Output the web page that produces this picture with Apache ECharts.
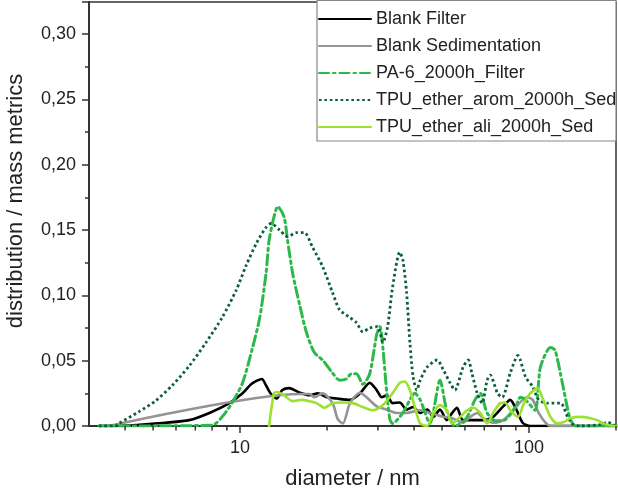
<!DOCTYPE html>
<html>
<head>
<meta charset="utf-8">
<script src="https://cdn.jsdelivr.net/npm/echarts@6/dist/echarts.min.js"></script>
<style>
  html, body { margin: 0; padding: 0; background: #fff; }
  #main { width: 618px; height: 489px; }
</style>
</head>
<body>
<div id="main"></div>
<script>
// [diameter nm, distribution]
const blankFilter = [[3.25,0],[4.13,0.0003],[4.47,0.001],[5.5,0.0025],[6.67,0.0045],[7.83,0.010],[9.18,0.0175],[10.2,0.025],[11.0,0.0325],[11.9,0.036],[12.3,0.031],[12.8,0.0245],[13.4,0.021],[14.0,0.0275],[14.8,0.029],[16.1,0.0255],[17.4,0.0235],[18.6,0.025],[20.0,0.022],[21.6,0.021],[24.0,0.020],[26.0,0.025],[28.1,0.033],[29.7,0.0275],[30.9,0.022],[32.2,0.0235],[33.7,0.0175],[35.7,0.018],[37.7,0.0125],[39.7,0.0145],[42.0,0.010],[44.4,0.0125],[46.6,0.007],[49.2,0.0125],[51.9,0.0045],[54.2,0.010],[56.3,0.014],[59.1,0.0045],[64.3,0.0045],[69.5,0.0045],[75.1,0.007],[81.4,0.015],[86.1,0.020],[89.6,0.0145],[95,0.0025],[101,0],[201,0]];
const blankSed = [[3.52,0],[16.1,0.0245],[17.4,0.0245],[18.1,0.022],[19.3,0.025],[20.9,0.0175],[21.8,0.005],[22.7,0.002],[24.0,0.0175],[26.0,0.0255],[27.4,0.022],[29.7,0.015],[32.2,0.0125],[34.8,0.010],[37.7,0.010],[42.0,0.012],[45.4,0.010],[50.5,0.007],[54.2,0.006],[59.1,0.0025],[62.6,0.007],[66.2,0.010],[69.5,0.006],[75.1,0.0025],[81.4,0.0045],[88.5,0.0125],[95,0.020],[98.7,0.022],[103,0.020],[108,0.010],[114,0.0025],[118.6,0],[201,0]];
const pa6Filter = [[3.25,0],[7.99,0.0005],[8.67,0.007],[9.4,0.018],[10.2,0.033],[11.0,0.0585],[11.7,0.083],[12.3,0.117],[12.6,0.142],[13.1,0.160],[13.5,0.168],[14.2,0.160],[14.6,0.142],[15.2,0.117],[16.1,0.092],[17.0,0.071],[18.1,0.056],[19.3,0.0505],[20.9,0.0405],[22.1,0.035],[23.3,0.036],[24.3,0.040],[25.3,0.040],[26.6,0.032],[28.1,0.040],[29.7,0.070],[30.5,0.076],[31.2,0.060],[32.2,0.025],[33.0,0.005],[33.7,0.002],[36.6,0.010],[40.3,0.025],[42.0,0.020],[45.4,0.002],[49.2,0.035],[51.9,0.012],[55.4,0],[60.3,0.005],[65,0.02],[67.8,0.025],[71.6,0.01],[76.5,0.004],[83,0.005],[90,0.015],[93.3,0.022],[97.3,0.02],[105,0.012],[109.5,0.045],[118.6,0.06],[123,0.058],[128.5,0.04],[134,0.02],[139,0.005],[145,0],[201,0]];
const tpuArom = [[3.25,0],[3.7,0],[3.81,0.002],[4.47,0.011],[5.08,0.019],[5.82,0.031],[6.67,0.046],[7.6,0.0635],[8.67,0.083],[9.7,0.104],[10.5,0.123],[11.4,0.140],[12.3,0.152],[12.8,0.155],[13.7,0.150],[14.6,0.145],[15.7,0.148],[16.7,0.148],[17.8,0.137],[19.3,0.122],[20.9,0.102],[22.1,0.089],[24.0,0.083],[25.3,0.079],[26.6,0.072],[28.1,0.075],[29.9,0.076],[31.2,0.064],[32.4,0.076],[33.7,0.106],[35.7,0.133],[36.6,0.127],[37.7,0.102],[38.7,0.064],[39.7,0.0375],[40.9,0.0275],[42.0,0.035],[44.4,0.045],[48.1,0.0505],[50.5,0.043],[53.3,0.033],[55.4,0.0275],[59.1,0.045],[61.6,0.0505],[63.4,0.0405],[66.2,0.025],[68.8,0.0175],[71.6,0.035],[73.4,0.039],[77.8,0.025],[80.8,0.022],[86.1,0.0405],[91.6,0.054],[93.3,0.0505],[97.3,0.0375],[103,0.030],[108,0.020],[116,0.0175],[128.5,0.0175],[136,0.007],[141.5,0.0015],[150.7,0],[177,0.001],[187,0.003],[195,0.001],[201,0]];
const tpuAli = [[12.6,0],[13.1,0.025],[13.4,0.026],[14.2,0.0235],[15.2,0.019],[16.3,0.020],[17.4,0.019],[18.4,0.0175],[19.6,0.014],[20.9,0.0175],[22.7,0.018],[24.5,0.0175],[26.6,0.0145],[28.8,0.012],[31.2,0.016],[33.7,0.025],[35.7,0.033],[37.1,0.034],[38.7,0.0275],[40.3,0.014],[42.0,0.002],[44.4,0],[46.6,0.010],[49.2,0.016],[51.9,0.012],[54.2,0.002],[57.8,0.007],[61.0,0.012],[64.3,0.014],[67.8,0.010],[71.6,0.002],[75.1,0.010],[79.5,0.0175],[82.6,0.018],[86.1,0.012],[91.6,0.007],[96.1,0.0175],[101,0.025],[107,0.029],[112,0.020],[118.6,0.007],[125,0.002],[132,0.003],[139,0.006],[151,0.007],[163,0.006],[172,0.0045],[181,0.002],[196,0],[201,0]];

const seriesNames = ['Blank Filter', 'Blank Sedimentation', 'PA-6_2000h_Filter', 'TPU_ether_arom_2000h_Sed', 'TPU_ether_ali_2000h_Sed'];
const xMinorTicks = [4, 5, 6, 7, 8, 9, 20, 30, 40, 50, 60, 70, 80, 90, 200];

const font = '"Liberation Sans", Arial, sans-serif';
const axisColor = '#333';

function lineSeries(name, data, color, width, dash, cap) {
  return {
    name: name,
    type: 'line',
    data: data,
    symbol: 'none',
    smooth: 0.25,
    lineStyle: {color: color, width: width, type: dash || 'solid', cap: cap || 'round'},
    itemStyle: {color: color},
    z: 3
  };
}

const chart = echarts.init(document.getElementById('main'));
chart.setOption({
  animation: false,
  textStyle: {fontFamily: font},
  grid: {
    left: 89, right: 2, top: 2, bottom: 63,
    outerBoundsMode: 'none', containLabel: false,
    show: true, borderColor: axisColor, borderWidth: 1.5
  },
  legend: {
    data: seriesNames,
    orient: 'vertical',
    left: 318,
    top: 10,
    padding: 0,
    itemWidth: 52,
    itemHeight: 14,
    itemGap: 9,
    itemStyle: {opacity: 0},
    textStyle: {fontSize: 18, color: '#222', fontFamily: font}
  },
  graphic: [{
    type: 'rect',
    shape: {x: 317, y: 0.5, width: 299, height: 140.5},
    style: {fill: '#fff', stroke: '#888', lineWidth: 1.2},
    z: 1
  }],
  xAxis: {
    type: 'log',
    logBase: 10,
    min: 3,
    max: 200,
    name: 'diameter / nm',
    nameLocation: 'middle',
    nameGap: 42,
    nameTextStyle: {fontSize: 22, color: '#222'},
    axisLine: {lineStyle: {color: axisColor, width: 2}},
    axisTick: {length: 7, lineStyle: {color: axisColor, width: 1.5}},
    axisLabel: {fontSize: 18, color: '#222', margin: 13, showMinLabel: false, showMaxLabel: false},
    splitLine: {show: false}
  },
  yAxis: {
    type: 'value',
    min: 0,
    max: 0.3245,
    interval: 0.05,
    name: 'distribution / mass metrics',
    nameLocation: 'middle',
    nameGap: 62,
    nameTextStyle: {fontSize: 22, color: '#222', padding: [0, 0, 0, 26]},
    axisLine: {show: true, lineStyle: {color: axisColor, width: 2}},
    axisTick: {show: true, length: 7, lineStyle: {color: axisColor, width: 1.5}},
    minorTick: {show: true, splitNumber: 2, length: 4, lineStyle: {color: axisColor, width: 1.5}},
    axisLabel: {
      fontSize: 18, color: '#222', margin: 13, showMaxLabel: false,
      formatter: v => v.toFixed(2).replace('.', ',')
    },
    splitLine: {show: false}
  },
  series: [
    lineSeries(seriesNames[0], blankFilter, '#000000', 2.6),
    lineSeries(seriesNames[1], blankSed, '#949494', 2.6),
    lineSeries(seriesNames[2], pa6Filter, '#2db84b', 3, [10, 4, 2.5, 4]),
    lineSeries(seriesNames[3], tpuArom, '#0b5f3a', 2.8, [2.6, 2.8], 'butt'),
    lineSeries(seriesNames[4], tpuAli, '#9be22f', 2.6),
    {
      type: 'custom',
      name: 'minorTicks',
      data: xMinorTicks.map(v => [v, 0]),
      encode: {x: 0, y: 1},
      clip: false,
      silent: true,
      z: 5,
      renderItem: function (params, api) {
        const p = api.coord([api.value(0), 0]);
        return {
          type: 'line',
          shape: {x1: p[0], y1: p[1], x2: p[0], y2: p[1] + 4.5},
          style: {stroke: axisColor, lineWidth: 1.5}
        };
      }
    }
  ]
});
</script>
</body>
</html>
